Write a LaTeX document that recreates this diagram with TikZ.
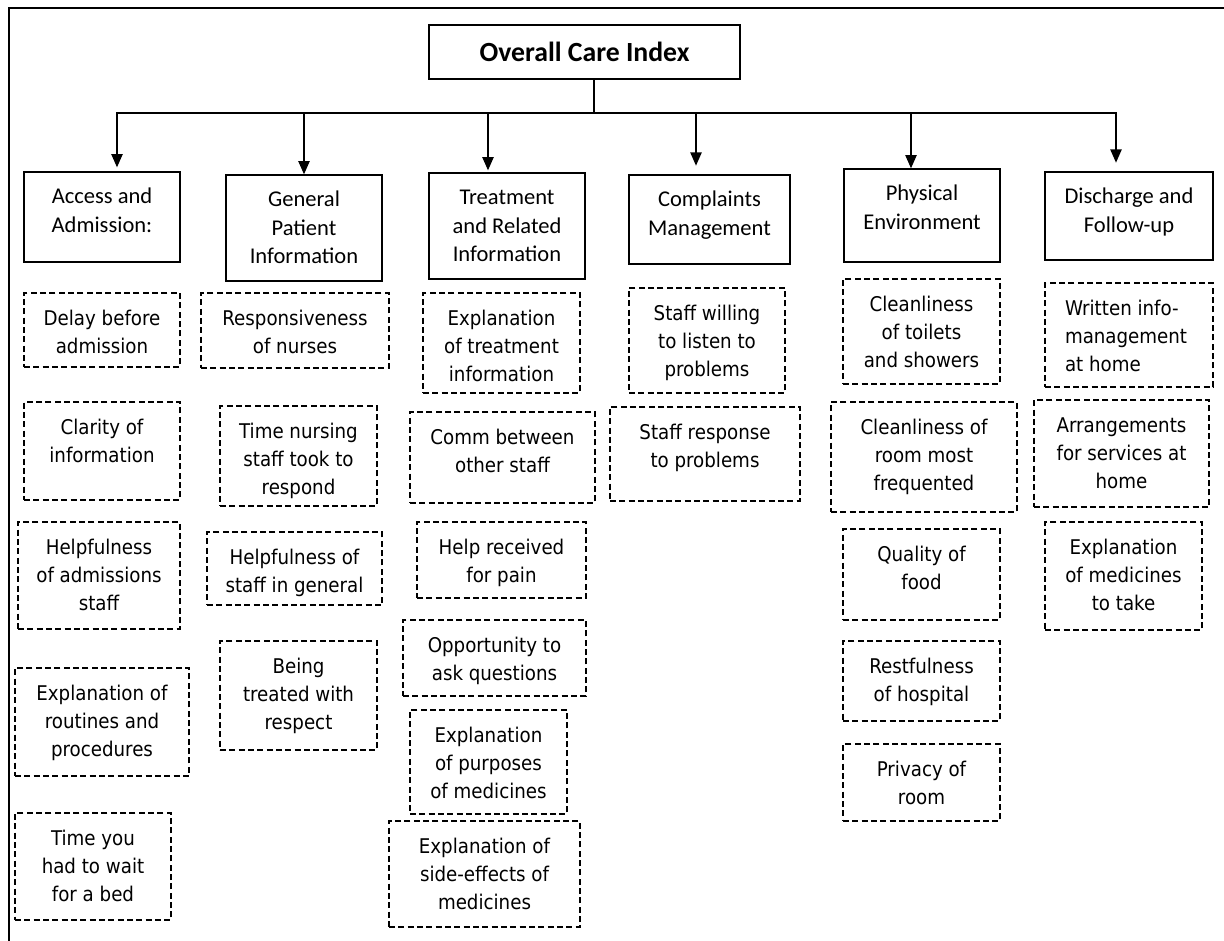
\documentclass[tikz,border=0pt]{standalone}
\usepackage{fontspec}
\setmainfont{Carlito}
\newfontfamily\leaffont{DejaVu Sans Condensed}
\newfontfamily\headfont{Carlito}
\usetikzlibrary{arrows.meta}
\tikzset{
  leafbox/.style={draw, dash pattern=on 4.4pt off 2.6pt, line width=1pt, inner sep=0pt, outer sep=0pt},
  leaftext/.style={font=\leaffont\fontsize{15.2}{21}\selectfont, align=center, inner sep=0pt, outer sep=0pt},
  headbox/.style={draw, line width=1.1pt, fill=white, inner sep=0pt, outer sep=0pt},
  headtext/.style={font=\headfont\fontsize{16.9}{21.4}\selectfont, align=center, inner sep=0pt, outer sep=0pt},
  titlebox/.style={draw, line width=1.1pt, inner sep=0pt, outer sep=0pt, font=\headfont\bfseries\fontsize{20.8}{24}\selectfont},
  conn/.style={line width=1.1pt},
  arr/.style={conn, -{Triangle[length=10pt,width=8.5pt]}},
  frameline/.style={line width=1.5pt}
}
% name, x1, y1, x2, y2, text
\newcommand\mkleaf[6]{%
  \node[leafbox, anchor=north west, minimum width={(#4-#2)*0.75pt}, minimum height={(#5-#3)*0.75pt}] (#1) at (#2,#3) {};
  \node[leaftext, anchor=north] (#1-t) at ({(#2+#4)/2},{#3+14.3}) {\rule{0pt}{14pt}#6};
}
\newcommand\mkhead[6]{%
  \node[headbox, anchor=north west, minimum width={(#4-#2)*0.75pt}, minimum height={(#5-#3)*0.75pt}] (#1) at (#2,#3) {};
  \node[headtext, anchor=north] (#1-t) at ({(#2+#4)/2},{#3+12.8}) {\rule{0pt}{14pt}#6};
}
\begin{document}
\begin{tikzpicture}[x=0.75pt, y=-0.75pt]
\useasboundingbox (0,0) rectangle (1224,940);
% frame (right and bottom edges lie outside the picture)
\draw[frameline] (9,945) -- (9,8) -- (1230,8);

% title
\node[titlebox, anchor=north west, minimum width={311*0.75pt}, minimum height={54*0.75pt}] (title) at (429,25) {Overall Care Index};

% headers
\mkhead{h1}{24}{172}{180}{262}{Access and\\Admission:}
\mkhead{h2}{226}{175}{382}{281}{General\\Patient\\Information}
\mkhead{h3}{429}{173}{585}{279}{Treatment\\and Related\\Information}
\mkhead{h4}{629}{175}{790}{264}{Complaints\\Management}
\mkhead{h5}{844}{169}{1000}{262}{Physical\\Environment}
\mkhead{h6}{1045}{172}{1213}{260}{Discharge and\\Follow-up}

% connectors
\coordinate (tj) at (594,113);
\coordinate (b1) at (117,113);
\coordinate (b2) at (304,113);
\coordinate (b3) at (488,113);
\coordinate (b4) at (696,113);
\coordinate (b5) at (911,113);
\coordinate (b6) at (1116,113);
\draw[conn] (title.south -| tj) -- (tj);
\draw[conn, line cap=rect] (b1) -- (b6);
\draw[arr, shorten >=3.5pt] (b1) -- (b1 |- h1.north);
\draw[arr, shorten >=0.5pt] (b2) -- (b2 |- h2.north);
\draw[arr, shorten >=2pt] (b3) -- (b3 |- h3.north);
\draw[arr, shorten >=7pt] (b4) -- (b4 |- h4.north);
\draw[arr, shorten >=0.5pt] (b5) -- (b5 |- h5.north);
\draw[arr, shorten >=7pt] (b6) -- (b6 |- h6.north);

% Access and Admission
\mkleaf{a1}{24}{293}{180}{367}{Delay before\\admission}
\mkleaf{a2}{24}{402}{180}{500}{Clarity of\\information}
\mkleaf{a3}{18}{522}{180}{629}{Helpfulness\\of admissions\\staff}
\mkleaf{a4}{15}{668}{189}{776}{Explanation of\\routines and\\procedures}
\mkleaf{a5}{15}{813}{171}{920}{Time you\\had to wait\\for a bed}

% General Patient Information
\mkleaf{b1l}{201}{293}{389}{368}{Responsiveness\\of nurses}
\mkleaf{b2l}{220}{406}{377}{506}{Time nursing\\staff took to\\respond}
\mkleaf{b3l}{207}{532}{382}{605}{Helpfulness of\\staff in general}
\mkleaf{b4l}{220}{641}{377}{750}{Being\\treated with\\respect}

% Treatment and Related Information
\mkleaf{c1}{423}{293}{580}{393}{Explanation\\of treatment\\information}
\mkleaf{c2}{410}{412}{595}{503}{Comm between\\other staff}
\mkleaf{c3}{417}{522}{586}{598}{Help received\\for pain}
\mkleaf{c4}{403}{620}{586}{696}{Opportunity to\\ask questions}
\mkleaf{c5}{410}{710}{567}{814}{Explanation\\of purposes\\of medicines}
\mkleaf{c6}{389}{821}{580}{927}{Explanation of\\side-effects of\\medicines}

% Complaints Management
\mkleaf{d1}{629}{288}{785}{393}{Staff willing\\to listen to\\problems}
\mkleaf{d2}{610}{407}{800}{501}{Staff response\\to problems}

% Physical Environment
\mkleaf{e1}{843}{279}{1000}{384}{Cleanliness\\of toilets\\and showers}
\mkleaf{e2}{831}{402}{1017}{512}{Cleanliness of\\room most\\frequented}
\mkleaf{e3}{843}{529}{1000}{620}{Quality of\\food}
\mkleaf{e4}{843}{641}{1000}{721}{Restfulness\\of hospital}
\mkleaf{e5}{843}{744}{1000}{821}{Privacy of\\room}

% Discharge and Follow-up
\node[leafbox, anchor=north west, minimum width={168*0.75pt}, minimum height={104*0.75pt}] (f1) at (1045,283) {};
\node[leaftext, align=left, anchor=north west] (f1-t) at (1065,297.3) {\rule{0pt}{14pt}Written info-\\management\\at home};
\mkleaf{f2}{1034}{400}{1209}{507}{Arrangements\\for services at\\home}
\mkleaf{f3}{1045}{522}{1202}{630}{Explanation\\of medicines\\to take}
\end{tikzpicture}
\end{document}
